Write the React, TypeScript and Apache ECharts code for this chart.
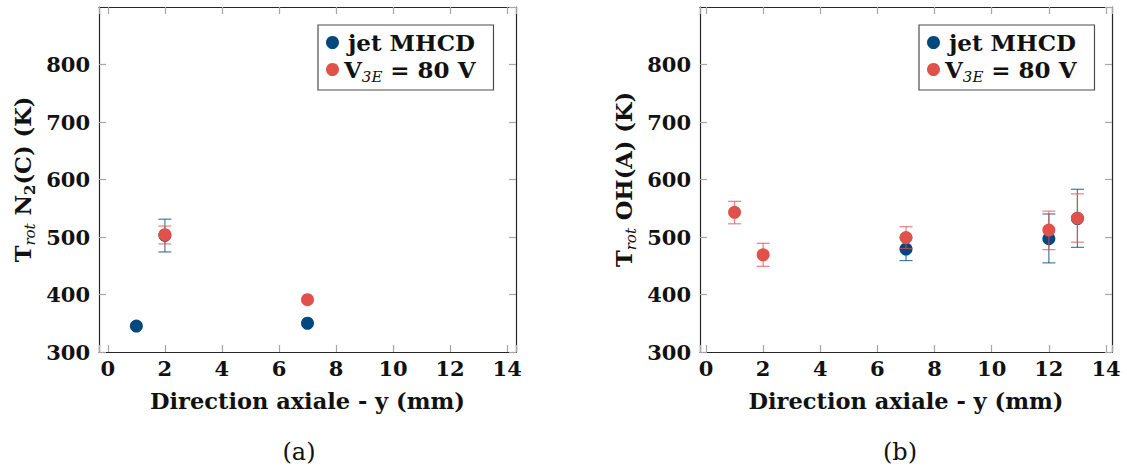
import React, { useEffect, useRef } from "react";
import * as echarts from "echarts";

// ---------- data ----------
const seriesNames = ["jet MHCD", "V3E = 80 V"];

// Panel (a): Trot N2(C)
const aJetX = [1, 2, 7];
const aJetY = [345, 503, 350];
const aJetLo = [null, 474, null];
const aJetHi = [null, 531, null];
const aV3eX = [2, 7];
const aV3eY = [504, 391];
const aV3eLo = [488, null];
const aV3eHi = [519, null];

// Panel (b): Trot OH(A)
const bJetX = [7, 12, 13];
const bJetY = [479, 497, 532];
const bJetLo = [459, 455, 482];
const bJetHi = [499, 540, 583];
const bV3eX = [1, 2, 7, 12, 13];
const bV3eY = [543, 469, 499, 512, 533];
const bV3eLo = [523, 449, 480, 478, 491];
const bV3eHi = [562, 489, 518, 545, 575];

const xTitle = "Direction axiale - y (mm)";
const yTitleA = "{b|T}{s|rot}{b| N}{n|2}{b|(C) (K)}";
const yTitleB = "{b|T}{s|rot}{b| OH(A) (K)}";
const captions = ["(a)", "(b)"];

// ---------- style ----------
const BLUE = "#00487d";
const RED = "#e05149";
const BLUE_ERR = "rgba(0,72,125,0.72)";
const RED_ERR = "rgba(224,81,73,0.72)";
const FONT = "DejaVu Serif";
const FRAME = "#262626";
const TICK = "#a6a6a6";

function rich(size: number, sub: number) {
  return {
    b: { fontFamily: FONT, fontWeight: "bold", fontSize: size, color: "#111", lineHeight: size + 6 },
    f: { fontFamily: FONT, fontWeight: "bold", fontSize: size, color: "#111", lineHeight: size + 6, padding: [0, 0, 0, 4] },
    s: { fontFamily: FONT, fontStyle: "italic", fontWeight: "normal", fontSize: sub, color: "#111", lineHeight: sub, verticalAlign: "bottom" },
    n: { fontFamily: FONT, fontWeight: "bold", fontSize: sub, color: "#111", lineHeight: sub, verticalAlign: "bottom" },
  };
}

function pairs(xs: number[], ys: number[]) {
  return xs.map((x, i) => [x, ys[i]]);
}
function errData(xs: number[], lo: (number | null)[], hi: (number | null)[]) {
  const out: number[][] = [];
  xs.forEach((x, i) => {
    if (lo[i] != null && hi[i] != null) out.push([x, lo[i] as number, hi[i] as number]);
  });
  return out;
}

function errSeries(id: string, data: number[][], color: string, axis: number, z: number) {
  return {
    type: "custom",
    id,
    name: id,
    xAxisIndex: axis,
    yAxisIndex: axis,
    silent: true,
    z,
    data,
    encode: { x: 0, y: [1, 2] },
    renderItem: (_p: any, api: any) => {
      const x = api.value(0);
      const p1 = api.coord([x, api.value(1)]);
      const p2 = api.coord([x, api.value(2)]);
      const w = 6.5;
      const style = { stroke: color, lineWidth: 1.2, fill: null };
      return {
        type: "group",
        children: [
          { type: "line", shape: { x1: p1[0], y1: p1[1], x2: p2[0], y2: p2[1] }, style },
          { type: "line", shape: { x1: p1[0] - w, y1: p1[1], x2: p1[0] + w, y2: p1[1] }, style },
          { type: "line", shape: { x1: p2[0] - w, y1: p2[1], x2: p2[0] + w, y2: p2[1] }, style },
        ],
      };
    },
  };
}

function scatter(name: string, data: number[][], color: string, axis: number, z: number) {
  return {
    type: "scatter",
    name,
    xAxisIndex: axis,
    yAxisIndex: axis,
    symbol: "circle",
    symbolSize: 13,
    itemStyle: { color, opacity: 1 },
    z,
    data,
  };
}

function xAxes(grid: number, min: number, max: number) {
  const common = {
    type: "value",
    gridIndex: grid,
    min,
    max,
    splitNumber: 7,
    minInterval: 2,
    maxInterval: 2,
    splitLine: { show: false },
    axisLine: { show: true, onZero: false, lineStyle: { color: FRAME, width: 1.2 } },
    axisTick: { show: true, inside: true, length: 7, lineStyle: { color: TICK, width: 1.2 } },
  };
  return [
    {
      ...common,
      position: "bottom",
      name: xTitle,
      nameLocation: "middle",
      nameGap: 37,
      nameMoveOverlap: false,
      nameTextStyle: { fontFamily: FONT, fontWeight: "bold", fontSize: 22.5, color: "#111" },
      axisLabel: {
        show: true,
        margin: 6,
        fontFamily: FONT,
        fontWeight: "bold",
        fontSize: 21,
        color: "#111",
        hideOverlap: false,
        formatter: (v: number) => (Math.abs(v - Math.round(v)) < 1e-9 ? String(Math.round(v)) : ""),
      },
    },
    { ...common, position: "top", axisLabel: { show: false } },
  ];
}

function yAxes(grid: number, title: string, gap: number) {
  const common = {
    type: "value",
    gridIndex: grid,
    min: 300,
    max: 900,
    interval: 100,
    splitLine: { show: false },
    axisLine: { show: true, onZero: false, lineStyle: { color: FRAME, width: 1.2 } },
    axisTick: { show: true, inside: true, length: 7, lineStyle: { color: TICK, width: 1.2 } },
  };
  return [
    {
      ...common,
      position: "left",
      name: title,
      nameLocation: "middle",
      nameRotate: 90,
      nameGap: gap,
      nameMoveOverlap: false,
      nameTextStyle: { rich: rich(22.5, 15) },
      axisLabel: {
        show: true,
        margin: 9,
        fontFamily: FONT,
        fontWeight: "bold",
        fontSize: 21,
        color: "#111",
        showMaxLabel: false,
        hideOverlap: false,
      },
    },
    { ...common, position: "right", axisLabel: { show: false } },
  ];
}

function legend(left: number) {
  return {
    show: true,
    orient: "vertical",
    left,
    top: 25,
    data: seriesNames,
    icon: "circle",
    itemWidth: 13,
    itemHeight: 13,
    itemGap: 4,
    padding: [6, 18, 6, 8],
    borderColor: "#4d4d4d",
    borderWidth: 1.2,
    borderRadius: 0,
    backgroundColor: "#fff",
    selectedMode: false,
    formatter: (name: string) => (name === seriesNames[1] ? "{b|V}{s|3E}{b| = 80 V}" : "{f|" + name + "}"),
    textStyle: { rich: rich(23, 15), padding: [0, 0, 0, 0] },
  };
}

export default function App() {
  const ref = useRef<HTMLDivElement>(null);
  useEffect(() => {
    if (!ref.current) return;
    document.body.style.margin = "0";
    const chart = echarts.init(ref.current, null, { renderer: "svg" });
    const option: any = {
      animation: false,
      backgroundColor: "#fff",
      grid: [
        { left: 99, top: 7, width: 417, height: 345, outerBoundsMode: "none", containLabel: false },
        { left: 700, top: 7, width: 412, height: 345, outerBoundsMode: "none", containLabel: false },
      ],
      xAxis: [...xAxes(0, -0.31, 14.31), ...xAxes(1, -0.21, 14.21)],
      yAxis: [...yAxes(0, yTitleA, 62), ...yAxes(1, yTitleB, 62)],
      legend: [legend(318), legend(919)],
      tooltip: { show: false },
      series: [
        errSeries("errAJet", errData(aJetX, aJetLo, aJetHi), BLUE_ERR, 0, 2),
        scatter(seriesNames[0], pairs(aJetX, aJetY), BLUE, 0, 3),
        errSeries("errAV3e", errData(aV3eX, aV3eLo, aV3eHi), RED_ERR, 0, 4),
        scatter(seriesNames[1], pairs(aV3eX, aV3eY), RED, 0, 5),
        errSeries("errBJet", errData(bJetX, bJetLo, bJetHi), BLUE_ERR, 2, 2),
        scatter(seriesNames[0], pairs(bJetX, bJetY), BLUE, 2, 3),
        errSeries("errBV3e", errData(bV3eX, bV3eLo, bV3eHi), RED_ERR, 2, 4),
        scatter(seriesNames[1], pairs(bV3eX, bV3eY), RED, 2, 5),
      ],
      graphic: [
        { type: "text", x: 299, y: 452, style: { text: captions[0], font: "24px '" + FONT + "'", fill: "#111", textAlign: "center", textVerticalAlign: "middle" } },
        { type: "text", x: 900, y: 452, style: { text: captions[1], font: "24px '" + FONT + "'", fill: "#111", textAlign: "center", textVerticalAlign: "middle" } },
      ],
    };
    chart.setOption(option);
    return () => chart.dispose();
  }, []);
  return <div ref={ref} style={{ width: 1127, height: 470 }} />;
}
